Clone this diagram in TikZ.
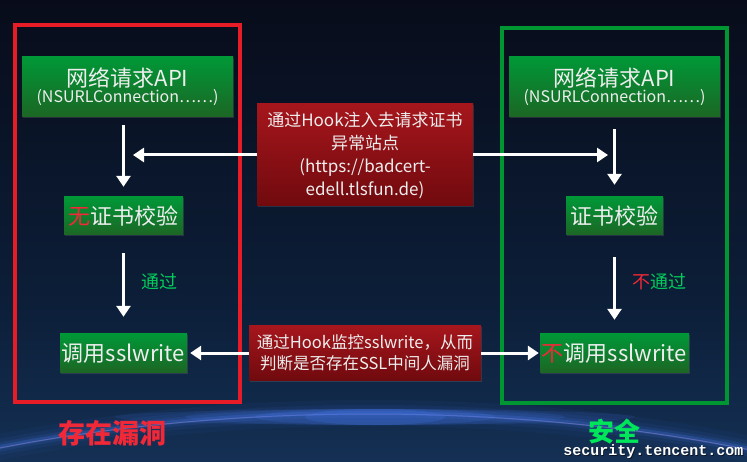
\documentclass[tikz,border=0pt]{standalone}
\usepackage{fontspec}
\setmainfont{Noto Sans CJK SC}
\newfontfamily\wmfont{Liberation Mono}
\usetikzlibrary{arrows.meta,shadows}
\definecolor{bgtop}{RGB}{8,12,26}
\definecolor{bgmid}{RGB}{12,30,56}
\definecolor{bgbot}{RGB}{20,48,84}
\definecolor{gtop}{RGB}{0,152,55}
\definecolor{gbot}{RGB}{28,102,36}
\definecolor{rtop}{RGB}{165,22,28}
\definecolor{rbot}{RGB}{112,10,14}
\definecolor{frred}{RGB}{232,28,38}
\definecolor{frgreen}{RGB}{0,150,50}
\definecolor{lblgreen}{RGB}{0,205,90}
\definecolor{hotred}{RGB}{240,40,55}
\definecolor{safegreen}{RGB}{0,230,90}
\definecolor{txt}{RGB}{238,238,238}
\definecolor{glow}{RGB}{70,120,235}
\definecolor{rim}{RGB}{150,140,220}
\tikzset{
  gbox/.style={top color=gtop,bottom color=gbot,inner sep=0pt,text=txt,align=center,
    drop shadow={opacity=0.25,shadow xshift=0.5pt,shadow yshift=-1.5pt}},
  rbox/.style={top color=rtop,bottom color=rbot,inner sep=0pt,text=txt,align=center,
    drop shadow={opacity=0.25,shadow xshift=0.5pt,shadow yshift=-1.5pt}},
  arr/.style={draw=white,line width=3pt,-{Triangle[width=14pt,length=11pt]}},
  frame/.style={line width=4.2pt},
  big/.style={font=\fontsize{22}{26}\selectfont},
}
\begin{document}
\begin{tikzpicture}[x=1pt,y=-1pt]
\path[use as bounding box] (0,0) rectangle (747,462);
% background
\shade[top color=bgtop,bottom color=bgmid] (0,0) rectangle (747,300);
\shade[top color=bgmid,bottom color=bgbot] (0,300) rectangle (747,462);
% horizon glow
\foreach \w/\o in {26/0.05,16/0.08,9/0.12,4/0.25}{
  \draw[glow,line width=\w pt,opacity=\o] (370,713) ellipse (800 and 300);
}
\draw[rim,line width=1pt,opacity=0.45] (370,714) ellipse (800 and 300);
\foreach \a/\o in {260/0.12,190/0.14,120/0.18,70/0.22}{
  \fill[glow,opacity=\o] (375,417) ellipse (\a pt and 8pt);
}
% frames
\draw[frame,frred] (15,25) rectangle (240,402);
\draw[frame,frgreen] (502,28) rectangle (727,403);
% boxes
\node[gbox,minimum width=211pt,minimum height=60pt] (api1) at (127.5,87)
  {\fontsize{22}{26}\selectfont 网络请求API\\\fontsize{16}{18}\selectfont (NSURLConnection……)};
\node[gbox,minimum width=211pt,minimum height=60pt] (api2) at (614.5,87)
  {\fontsize{22}{26}\selectfont 网络请求API\\\fontsize{16}{18}\selectfont (NSURLConnection……)};
\node[gbox,big,minimum width=119pt,minimum height=38pt] (chk1) at (123.5,216)
  {\textcolor{hotred}{无}证书校验};
\node[gbox,big,minimum width=97pt,minimum height=38pt] (chk2) at (614.5,216)
  {证书校验};
\node[gbox,big,minimum width=127pt,minimum height=38pt] (call1) at (123.5,353)
  {调用sslwrite};
\node[gbox,big,minimum width=149pt,minimum height=38pt] (call2) at (614.5,353)
  {\textcolor{hotred}{不}调用sslwrite};
\node[rbox,minimum width=216pt,minimum height=102pt,font=\fontsize{17}{23}\selectfont] (mid1) at (365,155)
  {通过Hook注入去请求证书\\异常站点\\(https://badcert-\\edell.tlsfun.de)};
\node[rbox,minimum width=232pt,minimum height=54pt,font=\fontsize{16.5}{21}\selectfont] (mid2) at (365,353)
  {通过Hook监控sslwrite，从而\\判断是否存在SSL中间人漏洞};
% connectors
\coordinate (hl) at (133,155);
\coordinate (hr) at (608,155);
\draw[arr,shorten <=8pt,shorten >=10pt] (chk1.north |- api1.south) -- (chk1.north);
\draw[arr,shorten <=12pt,shorten >=12pt] (chk2.north |- api2.south) -- (chk2.north);
\draw[arr,shorten <=18pt,shorten >=17pt] (chk1.south) -- (call1.north);
\draw[arr,shorten <=22pt,shorten >=14pt] (chk2.south) -- (call2.north);
\draw[arr] (mid1.west) -- (hl);
\draw[arr] (mid1.east) -- (hr);
\draw[arr,shorten >=3pt] (mid2.west) -- (call1.east);
\draw[arr,shorten >=1pt] (mid2.east) -- (call2.west);
% labels
\node[text=lblgreen,font=\fontsize{18}{20}\selectfont] (pass1) at (159,282) {通过};
\node[text=lblgreen,font=\fontsize{18}{20}\selectfont] (pass2) at (659,282) {\textcolor{hotred}{不}通过};
\node[text=hotred,font=\fontsize{27}{30}\selectfont\bfseries] (vuln) at (112,433) {存在漏洞};
\node[text=safegreen,font=\fontsize{26}{28}\selectfont\bfseries] (safe) at (614,432) {安全};
\node[text=black,opacity=0.6,font=\wmfont\bfseries\fontsize{15}{17}\selectfont,anchor=east] at (747.8,452.8) {security.tencent.com};
\node[text=white,font=\wmfont\bfseries\fontsize{15}{17}\selectfont,anchor=east] (wm) at (747,452) {security.tencent.com};
\end{tikzpicture}
\end{document}
